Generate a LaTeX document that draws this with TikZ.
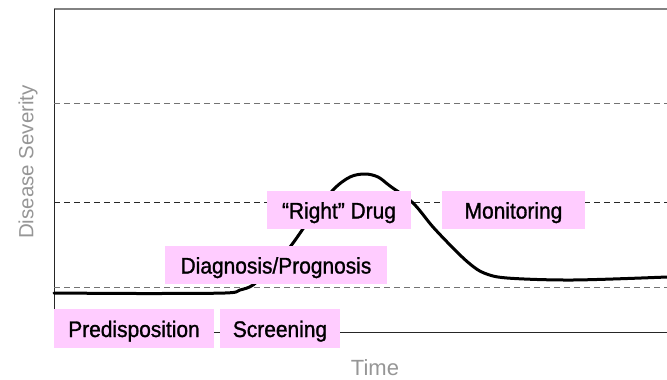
\documentclass[tikz,border=0pt]{standalone}
\usepackage{fontspec}
\setmainfont{Liberation Sans}
\newfontfamily\boxfont{Liberation Sans}[FakeBold=1.2,FakeStretch=0.93]
\definecolor{boxpink}{RGB}{255,204,255}
\definecolor{axisgray}{RGB}{130,130,130}
\definecolor{labelgray}{RGB}{150,150,150}
\begin{document}
\begin{tikzpicture}[x=1pt,y=-1pt,
  stagebox/.style={fill=boxpink,draw=none,inner sep=0pt,text height=19pt,text depth=2pt,font=\boxfont\fontsize{22.5}{24}\selectfont,text=black,anchor=center},
  gridline/.style={dashed,dash pattern=on 6pt off 4pt,line width=1pt},
  axislabel/.style={text=labelgray,font=\fontsize{20.5}{24}\selectfont,inner sep=0pt}]
\useasboundingbox (0,0) rectangle (667,380);
% frame
\draw[axisgray,line width=1.5pt] (54,9) -- (667,9);
\draw[black!85,line width=1pt] (54,9) -- (54,332) -- (667,332);
% dashed levels
\draw[gridline,black!55] (54,103) -- (667,103);
\draw[gridline,black!85] (54,202) -- (667,202);
\draw[gridline,black!55] (54,287) -- (667,287);
% disease curve
\draw[line width=3pt,line cap=round,line join=round] plot[smooth,tension=0.55] coordinates {
 (54,293) (140,293.5) (225,293) (240,290) (253,285) (270,269) (290,247) (310,219) (333,190) (350,177) (365,174) (378,177) (390,186) (413,203) (433,227) (455,250) (470,264) (484,273) (507,278) (573,280) (667,277)};
% stage boxes
\node[stagebox,minimum width=160pt,minimum height=39pt] (pre) at (134,328.5) {Predisposition};
\node[stagebox,minimum width=120pt,minimum height=39pt] (scr) at (280,328.5) {Screening};
\node[stagebox,minimum width=222pt,minimum height=38pt] (dia) at (276,265) {Diagnosis/Prognosis};
\node[stagebox,minimum width=144pt,minimum height=38pt] (drug) at (339,210) {“Right” Drug};
\node[stagebox,minimum width=143pt,minimum height=38pt] (mon) at (513.5,210) {Monitoring};
% axis labels
\node[axislabel,rotate=90] (ylab) at (28,162) {Disease Severity};
\node[axislabel,font=\fontsize{22}{24}\selectfont] (xlab) at (375,368) {Time};
\end{tikzpicture}
\end{document}
